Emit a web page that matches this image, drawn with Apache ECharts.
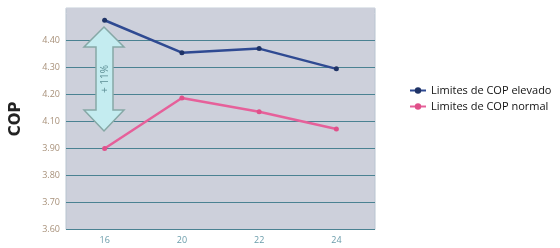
<!DOCTYPE html>
<html><head><meta charset="utf-8">
<script src="https://cdn.jsdelivr.net/npm/echarts@6/dist/echarts.min.js"></script>
<style>html,body{margin:0;padding:0;background:#fff}#c{width:560px;height:248px}</style>
</head><body><div id="c"></div>
<script>
var categories = ['16', '20', '22', '24'];
var tickLabels = ['3.60', '3.70', '3.80', '3.90', '4.10', '4.20', '4.30', '4.40'];
var elevado = [4.475, 4.355, 4.37, 4.295];
var normal = [3.90, 4.187, 4.136, 4.045];
var seriesNames = ['Limites de COP elevado', 'Limites de COP normal'];

var tickVals = tickLabels.map(Number);
function pos(v) {
  for (var i = 0; i < tickVals.length - 1; i++) {
    if (v <= tickVals[i + 1]) return i + (v - tickVals[i]) / (tickVals[i + 1] - tickVals[i]);
  }
  var n = tickVals.length - 1;
  return n + (v - tickVals[n]) / 0.1;
}

var chart = echarts.init(document.getElementById('c'));
var gridColors = [];
for (var k = 0; k < 8; k++) gridColors.push('#4a8292');
gridColors.push('#cdd0db', '#cdd0db');

chart.setOption({
  animation: false,
  grid: { left: 66, right: 185, top: 8.1, bottom: 18.5, show: true, backgroundColor: '#cdd0db', borderColor: '#b8c4d0', borderWidth: 1 },
  legend: {
    orient: 'vertical', left: 404, top: 80, itemGap: 5, itemWidth: 16, itemHeight: 8,
    textStyle: { fontFamily: 'Open Sans', fontSize: 11, color: '#111' },
    data: seriesNames
  },
  xAxis: {
    type: 'category', data: categories, boundaryGap: true,
    axisLine: { show: false }, axisTick: { show: false },
    axisLabel: { color: '#6a9caa', fontSize: 9, fontFamily: 'Open Sans', margin: 6 }
  },
  yAxis: {
    type: 'value', min: 0, max: 8.2, interval: 1,
    name: 'COP', nameLocation: 'middle', nameRotate: 90, nameGap: 42,
    nameTextStyle: { fontWeight: 'bold', fontSize: 15, color: '#222', fontFamily: 'DejaVu Sans' },
    axisLine: { show: false }, axisTick: { show: false },
    axisLabel: { color: '#a8917a', fontSize: 9, fontFamily: 'Open Sans', margin: 6,
      formatter: function (v) { return tickLabels[v] || ''; } },
    splitLine: { show: true, lineStyle: { color: gridColors, width: 1.2 } }
  },
  graphic: [
    {
      type: 'polygon', z: 10,
      shape: { points: [[104, 27], [124, 47], [113, 47], [113, 110], [124, 110], [104, 131], [84, 110], [96, 110], [96, 47], [84, 47]] },
      style: { fill: '#c4ecf0', stroke: '#86a8a6', lineWidth: 1.5 }
    },
    {
      type: 'text', z: 11, x: 105, y: 79, rotation: Math.PI / 2,
      style: { text: '+ 11%', fill: '#5c8e94', fontSize: 10, fontFamily: 'Open Sans', align: 'center', verticalAlign: 'middle' }
    }
  ],
  series: [
    { name: seriesNames[0], type: 'line', data: elevado.map(pos), symbol: 'circle', symbolSize: 5,
      lineStyle: { color: '#2f4a92', width: 2.5 }, itemStyle: { color: '#1f3366' }, z: 3 },
    { name: seriesNames[1], type: 'line', data: normal.map(pos), symbol: 'circle', symbolSize: 5,
      lineStyle: { color: '#e6609a', width: 2.5 }, itemStyle: { color: '#e0508a' }, z: 3 }
  ]
});
</script></body></html>
